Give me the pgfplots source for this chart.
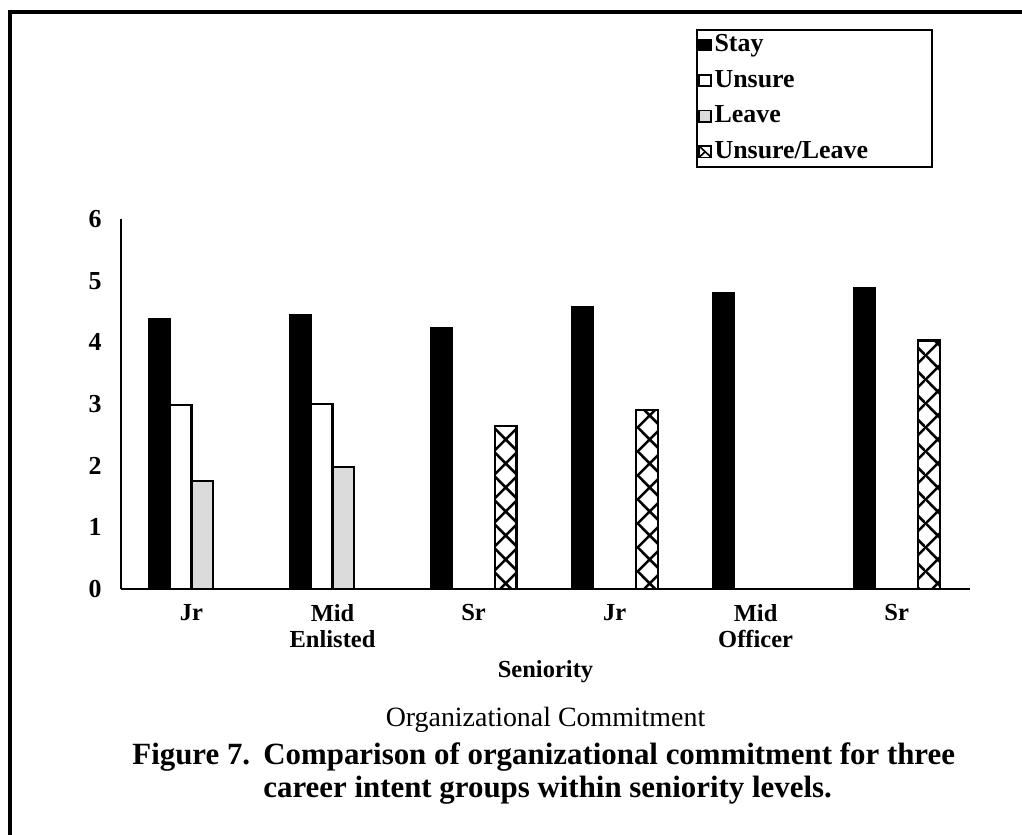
\documentclass[border=0pt]{standalone}
\usepackage{pgfplots}
\pgfplotsset{compat=1.18}
\usepackage{pgfplotstable}
\usepackage{fontspec}
\setmainfont{Liberation Serif}
\usetikzlibrary{patterns.meta}

\tikzdeclarepattern{
  name=bigx, type=uncolored,
  bounding box={(0,0) and (11.75bp,12bp)},
  tile size={(11.75bp,12bp)},
  code={
    \draw[line width=1.3bp] (-17.025bp,-18bp) -- (29.975bp,30bp)
                            (-17.025bp,30bp) -- (29.975bp,-18bp);
  }
}

\pgfplotstableread{
x y
0 4.38
1 4.45
2 4.24
3 4.58
4 4.81
5 4.88
}\staytab
\pgfplotstableread{
x y
0 2.98
1 3.00
}\unsuretab
\pgfplotstableread{
x y
0 1.75
1 1.98
}\leavetab
\pgfplotstableread{
x y
2 2.64
3 2.90
5 4.03
}\ultab

\pgfplotsset{
  leg/.style={legend image code/.code={\draw[##1,line width=0.8bp] (0bp,-2.8bp) rectangle (6bp,2.8bp);}},
  legx/.style={legend image code/.code={\draw[draw=black,fill=white,line width=0.8bp] (0bp,-2.8bp) rectangle (6bp,2.8bp);
      \draw[black,line width=0.8bp] (0bp,2.8bp) -- (6bp,-2.8bp) (0bp,-2.8bp) -- (3bp,0bp);}},
}

\begin{document}
\begin{tikzpicture}
\begin{axis}[
  at={(60.5bp,123bp)}, anchor=south west,
  scale only axis, width=424.5bp, height=185bp,
  xmin=-0.5, xmax=5.52, ymin=0, ymax=6,
  axis x line=bottom, axis y line=left,
  axis line style={-, line width=1bp},
  major tick length=0pt,
  xtick={0,1,2,3,4,5},
  xticklabels={Jr, Mid\\Enlisted, Sr, Jr, Mid\\Officer, Sr},
  xticklabel style={align=center, font=\fontsize{12.3}{13.5}\selectfont\bfseries, anchor=north, yshift=-4bp},
  ytick={0,1,2,3,4,5,6},
  yticklabels={0,1,2,3,4,5,6},
  yticklabel style={font=\fontsize{13}{14}\selectfont\bfseries, anchor=east, inner xsep=0pt, xshift=-9.5bp},
  xlabel={Seniority},
  xlabel style={at={(axis description cs:0.5,-0.238)}, anchor=base, font=\fontsize{12.3}{14}\selectfont\bfseries},
  legend style={at={(axis description cs:0.6796,1.5054)}, anchor=north west, draw=none, fill=none,
    inner sep=0pt, row sep=5.3bp, column sep=1.3bp,
    font=\fontsize{13}{15}\selectfont\bfseries,
    nodes={inner sep=0pt, text height=9.5bp, text depth=3bp}},
  legend cell align=left,
]
\addplot[ybar, bar width=10.75bp, bar shift=-16.125bp, fill=black, draw=black, line width=0.8bp, leg] table[x=x,y=y] {\staytab};
\addlegendentry{Stay}
\addplot[ybar, bar width=10.75bp, bar shift=-5.375bp, fill=white, draw=black, line width=1.1bp, leg] table[x=x,y=y] {\unsuretab};
\addlegendentry{Unsure}
\addplot[ybar, bar width=10.75bp, bar shift=5.375bp, fill=gray!28, draw=black, line width=1.1bp, leg] table[x=x,y=y] {\leavetab};
\addlegendentry{Leave}
\addplot[ybar, bar width=10.75bp, bar shift=16.125bp, pattern=bigx, pattern color=black, draw=black, line width=1.1bp, legx] table[x=x,y=y] {\ultab};
\addlegendentry{Unsure/Leave}
\end{axis}
\draw[line width=1bp] (348.5bp,334bp) rectangle (466bp,402.5bp);
\node[anchor=base, inner sep=0pt, font=\fontsize{14}{16}\selectfont] at (272.75bp,54bp) {Organizational Commitment};
\node[anchor=base west, inner sep=0pt, font=\fontsize{15.5}{18}\selectfont\bfseries] at (66bp,35.5bp) {Figure 7.};
\node[anchor=base west, inner sep=0pt, font=\fontsize{15.5}{18}\selectfont\bfseries] at (131.5bp,35.5bp) {Comparison of organizational commitment for three};
\node[anchor=base west, inner sep=0pt, font=\fontsize{15.5}{18}\selectfont\bfseries] at (131.5bp,19bp) {career intent groups within seniority levels.};
\draw[line width=2bp] (5bp,0bp) -- (5bp,411.5bp) -- (511bp,411.5bp);
\pgfresetboundingbox
\path (0,0) rectangle (511bp,417.5bp);
\end{tikzpicture}
\end{document}
